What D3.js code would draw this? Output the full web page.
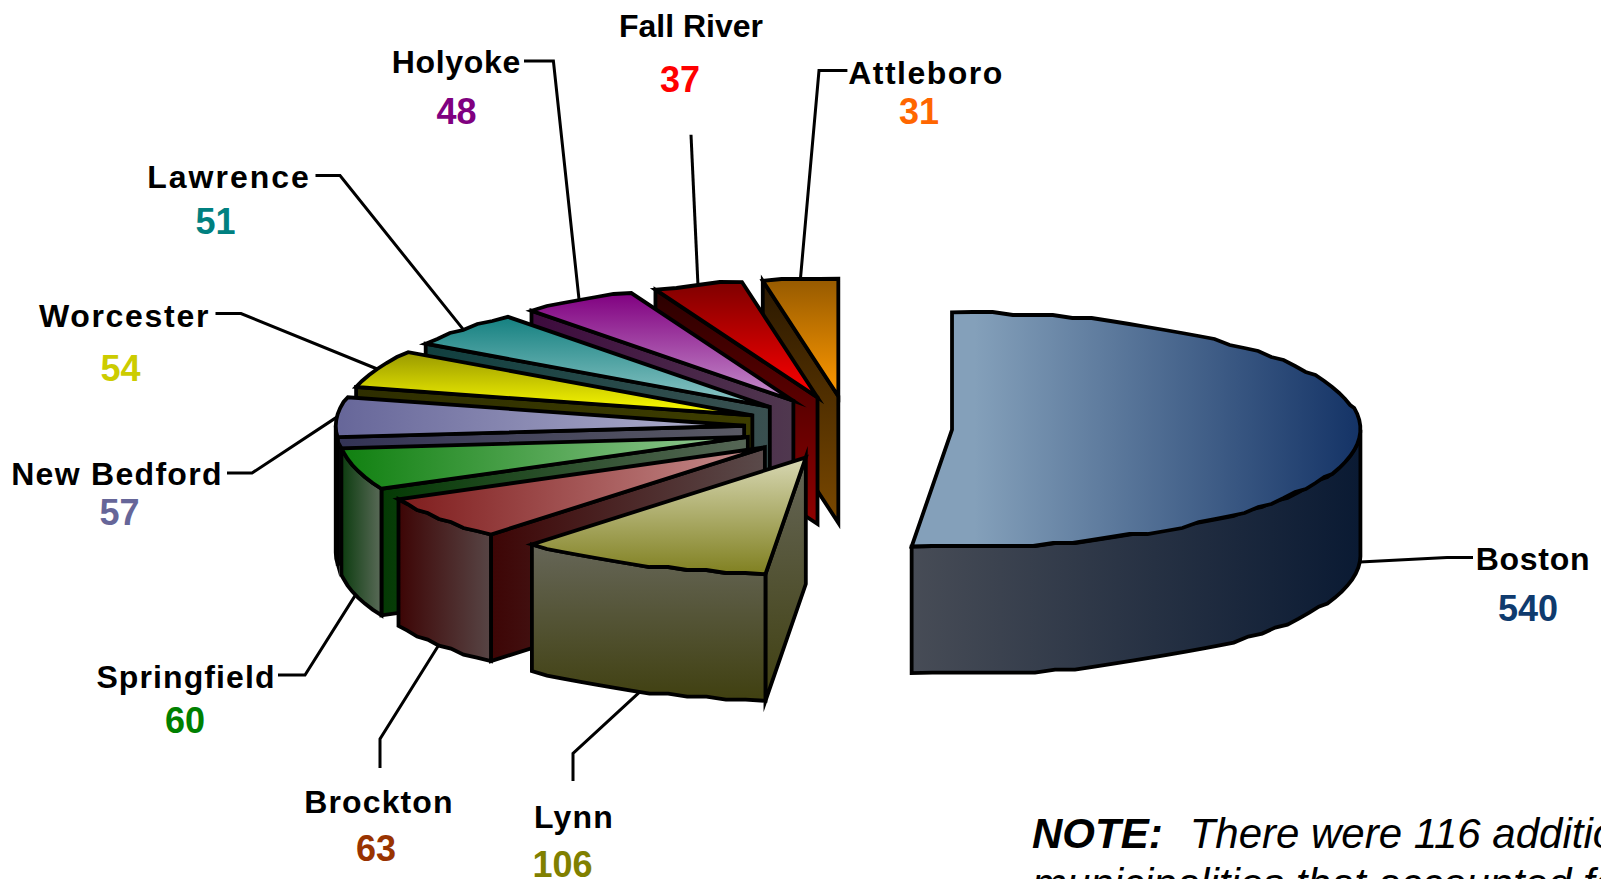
<!DOCTYPE html>
<html>
<head>
<meta charset="utf-8">
<script src="https://cdn.jsdelivr.net/npm/d3@7"></script>
<style>
  html, body { margin: 0; padding: 0; background: #fff; overflow: hidden; }
  text { font-family: "Liberation Sans", Arial, sans-serif; }
</style>
</head>
<body>
<div id="chart"></div>
<script>
const cities = ["Boston", "Lynn", "Brockton", "Springfield", "New Bedford", "Worcester", "Lawrence", "Holyoke", "Fall River", "Attleboro"];
const counts = [540, 106, 63, 60, 57, 54, 51, 48, 37, 31];

// colours, one entry per city
const valueColors = ["#0f3b6e", "#808000", "#993300", "#008000", "#666699", "#cccc00", "#008080", "#800080", "#ff0000", "#ff6600"];
const topFrom  = ["#84a0ba", "#d8d8b4", "#7f1c1c", "#108010", "#666699", "#999900", "#148080", "#800080", "#7f0000", "#965a00"];
const topTo    = ["#143366", "#808020", "#c89090", "#98cc98", "#b4b4d0", "#ffff00", "#90c8c8", "#c690cc", "#ff0000", "#ff9900"];
const topAxis  = ["h", "v", "h", "h", "h", "v", "v", "v", "v", "v"];
const rimFrom  = ["#474c56", "#666658", "#3d0505", "#0c3c0f", "#333355", "#333300", "#144040", "#400040", "#330000", "#2a1800"];
const rimTo    = ["#0a1a33", "#404010", "#574545", "#5a6a58", "#5a5a64", "#3d3d00", "#345050", "#50384f", "#800000", "#6b3f00"];
const wallFrom = ["#0a1a33", "#666658", "#3d0505", "#043a04", "#333355", "#2e2e00", "#103f3f", "#3d0a3d", "#2a0000", "#2a1800"];
const wallTo   = ["#0a1a33", "#404010", "#5a4a4a", "#566656", "#5a5a64", "#3d3d00", "#3a5050", "#50384f", "#900000", "#7a4800"];
const wallAxis = ["h", "v", "h", "h", "h", "h", "h", "h", "v", "v"];

// label placement, one entry per city
const labelX   = [1533, 574, 379, 186, 117, 124.5, 229, 456.4, 691, 926];
const labelY   = [570, 828, 813, 688, 485, 327, 187.5, 73, 37, 83.5];
const labelGap = [0.7, 1.2, 1.1, 1.1, 1.3, 1.7, 2, 0.7, 0, 1.5];
const valueX   = [1528, 562.5, 376, 185, 119.5, 120.5, 215.4, 456.4, 680, 919];
const valueY   = [621, 877, 861, 733, 525, 381, 234, 124, 92, 124];
const leadX    = [1473, 573, 380, 278, 227, 215.5, 315.5, 524, 691, 847.4];
const leadY    = [557.5, 781, 768, 675, 473, 313.5, 175.6, 61, 134.8, 70.5];
const elbowX   = [1447, 573, 380, 305, 252, 241, 340, 553.4, 691, 819];
const elbowY   = [557.5, 753.5, 739, 675, 473, 313.5, 175.6, 61, 134.8, 70.5];

const noteLines = ["There were 116 additional", "municipalities that accounted for"];

const width = 1601, height = 879;
const centerX = 848, centerY = 428.1, radiusX = 408.4, radiusY = 117.4;
const depth = 126.6, explodeX = 0.255, explodeY = 0.273;

const svg = d3.select("#chart")
  .append("svg")
  .attr("width", width)
  .attr("height", height)
  .attr("viewBox", `0 0 ${width} ${height}`)
  .style("display", "block");

const defs = svg.append("defs");

// unit circle -> screen, tilted pie
const x = d3.scaleLinear().domain([-1, 1]).range([centerX - radiusX, centerX + radiusX]);
const y = d3.scaleLinear().domain([-1, 1]).range([centerY - radiusY, centerY + radiusY]);

const slices = d3.pie().sort(null).value(d => d.count)(
  cities.map((city, i) => ({city, count: counts[i], i}))
);

const line = d3.line();

function gradient(id, axis, from, to, hold) {
  const g = defs.append("linearGradient")
    .attr("id", id)
    .attr("x1", 0).attr("y1", 0)
    .attr("x2", axis === "h" ? 1 : 0)
    .attr("y2", axis === "h" ? 0 : 1);
  g.append("stop").attr("offset", hold || 0).attr("stop-color", from);
  g.append("stop").attr("offset", 1).attr("stop-color", to);
  return `url(#${id})`;
}

// apex of a slice after it is pulled out along its middle angle
function apex(s) {
  const mid = (s.startAngle + s.endAngle) / 2;
  return [x(explodeX * Math.sin(mid)), y(-explodeY * Math.cos(mid))];
}

function rimPoint(s, angle) {
  const a = apex(s);
  return [a[0] + x(Math.sin(angle)) - centerX, a[1] + y(-Math.cos(angle)) - centerY];
}

// the outline in the source is a coarse vector export, so snap the arc a bit
function arcPoints(s, a0, a1) {
  const steps = Math.max(2, Math.round((a1 - a0) / 0.05));
  return d3.range(steps + 1).map(k => {
    const p = rimPoint(s, a0 + (a1 - a0) * k / steps);
    const ends = k === 0 || k === steps;
    return ends ? p : [p[0], Math.round(p[1] / 3) * 3];
  });
}

const lower = pts => pts.map(p => [p[0], p[1] + depth]);

// leader lines first, slices sit on top of their ends
const leaders = svg.append("g");
slices.forEach(s => {
  const i = s.data.i;
  const mid = (s.startAngle + s.endAngle) / 2;
  const end = rimPoint(s, mid);
  if (Math.cos(mid) < 0) end[1] += depth;
  leaders.append("path")
    .attr("d", line([[leadX[i], leadY[i]], [elbowX[i], elbowY[i]], end]))
    .attr("fill", "none")
    .attr("stroke", "#000")
    .attr("stroke-width", 3);
});

// back to front: Boston, then Attleboro round to Lynn
const drawOrder = [slices[0]].concat(slices.slice(1).reverse());

const pie = svg.append("g")
  .attr("stroke", "#000")
  .attr("stroke-width", 3.8)
  .attr("stroke-linejoin", "miter")
  .attr("stroke-miterlimit", 10);

drawOrder.forEach(s => {
  const i = s.data.i;
  const a = apex(s);
  const start = rimPoint(s, s.startAngle);

  if (i !== 0) {
    const wall = [a, start, [start[0], start[1] + depth], [a[0], a[1] + depth]];
    pie.append("path")
      .attr("d", line(wall) + "Z")
      .attr("fill", gradient(`wall${i}`, wallAxis[i], wallFrom[i], wallTo[i]));
  }

  // outer rim only shows on the front half
  const r0 = Math.max(s.startAngle, Math.PI / 2);
  const r1 = Math.min(s.endAngle, Math.PI * 1.5);
  if (r1 > r0) {
    const upper = arcPoints(s, r0, r1);
    const rim = upper.concat(lower(upper).reverse());
    pie.append("path")
      .attr("d", line(rim) + "Z")
      .attr("fill", gradient(`rim${i}`, i === 1 ? "v" : "h", rimFrom[i], rimTo[i]));
  }

  const top = [a].concat(arcPoints(s, s.startAngle, s.endAngle));
  pie.append("path")
    .attr("d", line(top) + "Z")
    .attr("fill", gradient(`top${i}`, topAxis[i], topFrom[i], topTo[i], i === 0 ? 0.14 : 0));
});

const labels = svg.append("g").attr("text-anchor", "middle").attr("font-weight", "bold");

labels.selectAll("text.city")
  .data(cities)
  .enter()
  .append("text")
  .attr("class", "city")
  .attr("x", (d, i) => labelX[i])
  .attr("y", (d, i) => labelY[i])
  .attr("font-size", 32)
  .attr("letter-spacing", (d, i) => labelGap[i])
  .attr("fill", "#000")
  .text(d => d);

labels.selectAll("text.count")
  .data(counts)
  .enter()
  .append("text")
  .attr("class", "count")
  .attr("x", (d, i) => valueX[i])
  .attr("y", (d, i) => valueY[i])
  .attr("font-size", 36)
  .attr("fill", (d, i) => valueColors[i])
  .text(d => d);

const note = svg.append("g")
  .attr("font-size", 42)
  .attr("font-style", "italic");

const first = note.append("text").attr("x", 1032).attr("y", 848);
first.append("tspan").attr("font-weight", "bold").text("NOTE:");
first.append("tspan").attr("dx", 27).text(noteLines[0]);

note.append("text").attr("x", 1032).attr("y", 898).text(noteLines[1]);
</script>
</body>
</html>
